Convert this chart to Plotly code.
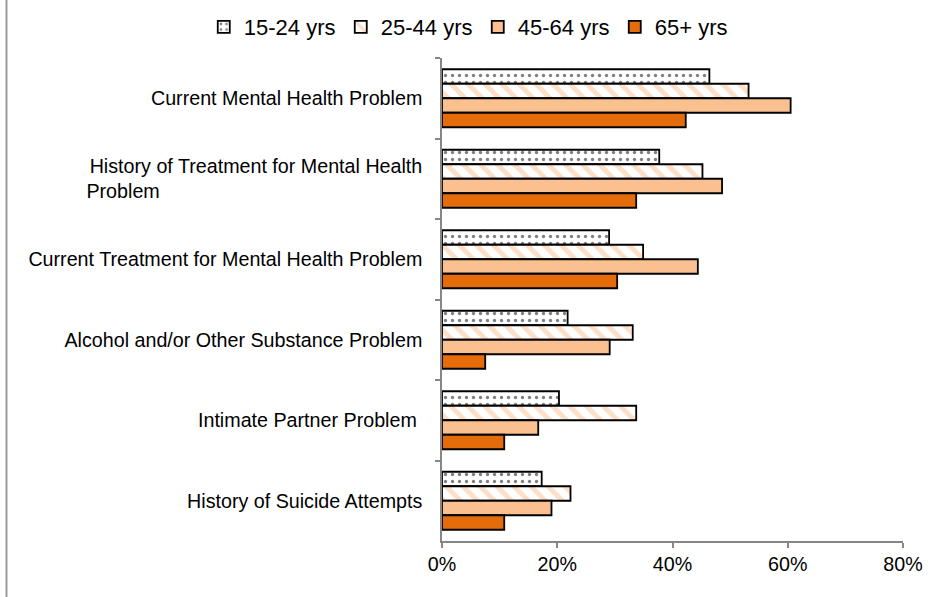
import plotly.graph_objects as go

NB = "\u00a0"
categories = [
    "Current Mental Health Problem",
    "History of Treatment for Mental Health<br>Problem" + NB * 48,
    "Current Treatment for Mental Health Problem",
    "Alcohol and/or Other Substance Problem",
    "Intimate Partner Problem" + NB,
    "History of Suicide Attempts",
]
series_names = ["15-24 yrs", "25-44 yrs", "45-64 yrs", "65+ yrs"]
v_15_24 = [46.4, 37.7, 29.0, 21.8, 20.3, 17.3]
v_25_44 = [53.2, 45.2, 34.9, 33.1, 33.7, 22.3]
v_45_64 = [60.5, 48.6, 44.4, 29.1, 16.7, 19.0]
v_65p = [42.3, 33.7, 30.4, 7.5, 10.8, 10.8]
x_ticks = [0, 20, 40, 60, 80]
x_tick_labels = ["0%", "20%", "40%", "60%", "80%"]

FONT = "Liberation Sans, Arial, sans-serif"
LIGHT = "#FAC090"
DARK = "#E46C0A"

styles = [
    dict(color="white", pattern=dict(shape=".", fgcolor="black", bgcolor="white", size=7, solidity=0.18)),
    dict(color="white", pattern=dict(shape="\\", fgcolor=LIGHT, bgcolor="white", size=12, solidity=0.4)),
    dict(color=LIGHT),
    dict(color=DARK),
]

fig = go.Figure()
for name, vals, st in zip(series_names, [v_15_24, v_25_44, v_45_64, v_65p], styles):
    fig.add_trace(go.Bar(
        y=categories, x=vals, name=name, orientation="h",
        marker=dict(line=dict(color="black", width=1.8), **st),
    ))

PLOT_L, PLOT_W, PLOT_T, PLOT_H = 441.5, 461.5, 58, 483

fig.update_layout(
    width=935, height=597,
    margin=dict(l=PLOT_L, r=32, t=PLOT_T, b=56, autoexpand=False),
    paper_bgcolor="white", plot_bgcolor="white",
    font=dict(family=FONT, size=19.7, color="black"),
    barmode="group", bargap=0.28, bargroupgap=0,
    showlegend=True,
    legend=dict(orientation="h", xref="paper", yref="paper",
                x=(203 - PLOT_L) / PLOT_W, y=1 + (PLOT_T - 27) / PLOT_H,
                xanchor="left", yanchor="middle",
                font=dict(size=22, family=FONT),
                entrywidth=92, entrywidthmode="pixels",
                itemwidth=30, traceorder="normal"),
    xaxis=dict(range=[0, 80], tickmode="array", tickvals=x_ticks,
               ticktext=x_tick_labels,
               showgrid=False, zeroline=False, showline=True,
               linecolor="#868686", linewidth=1.5, ticks="outside",
               ticklen=5, tickcolor="#868686", tickwidth=1.5,
               tickfont=dict(size=19.7)),
    yaxis=dict(autorange="reversed", showgrid=False, zeroline=False,
               showline=True, linecolor="#868686", linewidth=1.5,
               ticks="outside", tickson="boundaries", ticklen=5,
               tickcolor="#868686", tickwidth=1.5,
               ticklabelstandoff=14, tickfont=dict(size=19.7)),
    shapes=[dict(type="line", xref="paper", yref="paper", xsizemode="pixel",
                 xanchor=0, x0=-435.5, x1=-435.5, y0=-0.2, y1=1.2,
                 line=dict(color="#999999", width=2))],
)

fig.write_html("out.html", config={"displayModeBar": False},
               post_script="document.body.style.margin='0';")
